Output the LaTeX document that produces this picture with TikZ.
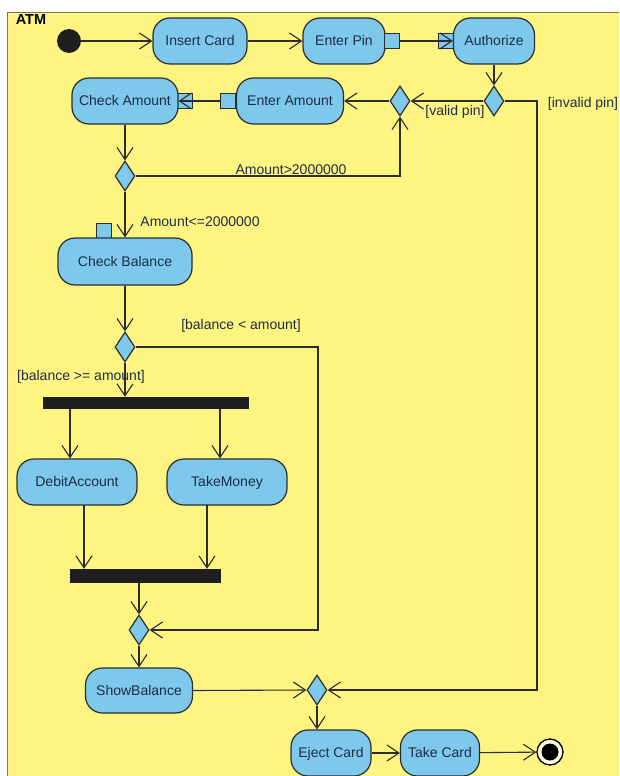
\documentclass[tikz,border=0pt]{standalone}
\usepackage{fontspec}
\setmainfont{Liberation Sans}
\usetikzlibrary{arrows.meta,shapes.geometric}
\definecolor{bgy}{RGB}{253,244,130}
\definecolor{nodeblue}{RGB}{125,200,235}
\definecolor{edgec}{RGB}{45,45,45}
\definecolor{txtc}{RGB}{30,45,70}
\definecolor{framec}{RGB}{120,120,90}
\begin{document}
\begin{tikzpicture}[x=1pt,y=-1pt,
  act/.style={draw=edgec, line width=1.2pt, fill=nodeblue, rounded corners=17pt,
    inner sep=0pt, text=txtc, font=\fontsize{14}{16}\selectfont, minimum height=46pt,
    text height=11.5pt, text depth=2.5pt},
  pinbox/.style={draw=edgec, line width=1.1pt, fill=nodeblue, inner sep=0pt,
    minimum width=15pt, minimum height=15pt},
  dec/.style={diamond, draw=edgec, line width=1.2pt, fill=nodeblue, inner sep=0pt,
    minimum width=20pt, minimum height=30pt},
  bar/.style={fill=black!88, inner sep=0pt},
  lbl/.style={text=txtc, font=\fontsize{14}{16}\selectfont, inner sep=0pt},
  arr/.style={draw=edgec, line width=1.1pt, -{Straight Barb[length=12pt,width=16pt,line width=1.1pt]}},
]
\useasboundingbox (0,0) rectangle (619,776);
\fill[white] (0,0) rectangle (619,776);
\fill[bgy] (7,13) rectangle (619,776);
\draw[framec, line width=1pt] (7,776) -- (7,13) -- (619,13);
\node[font=\bfseries\fontsize{14.5}{16}\selectfont, inner sep=0pt] (atm) at (31,20) {ATM};

% nodes
\node[circle, fill=black!88, minimum size=24pt, inner sep=0pt] (init) at (69,41) {};
\node[act, minimum width=94pt] (insert) at (200,41) {Insert Card};
\node[act, minimum width=82pt] (enterpin) at (344,41) {Enter Pin};
\node[pinbox] (pinout) at (392,41) {};
\node[pinbox] (pinin) at (446,41) {};
\node[act, minimum width=81pt] (authorize) at (494,41) {Authorize};

\node[dec] (d1) at (494,101) {};
\node[dec] (d2) at (400,101) {};
\node[act, minimum width=107pt] (enteramount) at (290,101) {Enter Amount};
\node[pinbox] (amountpin) at (228,101) {};
\node[pinbox] (checkpin) at (185,101) {};
\node[act, minimum width=106pt] (checkamount) at (125,101) {Check Amount};

\node[dec] (d3) at (125,176) {};
\node[pinbox] (balpin) at (104,231) {};
\node[act, minimum width=134pt, minimum height=47pt] (checkbal) at (125,261.5) {Check Balance};
\node[dec] (d4) at (125,347) {};

\node[bar, minimum width=206pt, minimum height=12pt] (fork) at (146,403) {};
\node[act, minimum width=120pt] (debit) at (77,482) {DebitAccount};
\node[act, minimum width=120pt] (take) at (227,482) {TakeMoney};
\node[bar, minimum width=151pt, minimum height=14pt] (join) at (145.5,576) {};
\node[dec] (d5) at (139,630) {};
\node[act, minimum width=107pt, minimum height=45pt] (showbal) at (139,690.5) {ShowBalance};
\node[dec] (dfin) at (317,690) {};
\node[act, minimum width=80pt] (eject) at (331,753) {Eject Card};
\node[act, minimum width=79pt] (takecard) at (440,753) {Take Card};
\node[circle, draw=black, line width=1.3pt, fill=white!70!bgy, minimum size=26pt, inner sep=0pt] (fin) at (550,752) {};
\node[circle, fill=black, minimum size=17pt, inner sep=0pt] (fininner) at (fin) {};

% free-end coordinates
\coordinate (rc) at (537,690);
\coordinate (lc) at (318,630);
\coordinate (f1) at (70,409);
\coordinate (f2) at (220,409);
\coordinate (j1) at (84,505);
\coordinate (j2) at (207,505);

% edges
\draw[arr] (init) -- (insert);
\draw[arr] (insert) -- (enterpin);
\draw[arr] (pinout.east) -- (authorize.west);
\draw[arr] (authorize) -- (d1);
\draw[arr] (d1.east) -| (rc) -- (dfin.east);
\draw[arr] (d1.west) -- (d2.east);
\draw[arr] (d2.west) -- (enteramount.east);
\draw[arr] (amountpin.west) -- (checkamount.east);
\draw[arr] (checkamount) -- (d3);
\draw[arr] (d3.east) -| (d2.south);
\draw[arr] (d3.south) -- (checkbal.north);
\draw[arr] (checkbal) -- (d4);
\draw[arr] (d4.south) -- (d4.south |- fork.north);
\draw[arr] (d4.east) -| (lc) -- (d5.east);
\draw[arr] (f1) -- (f1 |- debit.north);
\draw[arr] (f2) -- (f2 |- take.north);
\draw[arr] (j1) -- (j1 |- join.north);
\draw[arr] (j2) -- (j2 |- join.north);
\draw[arr] (d5.north |- join.south) -- (d5.north);
\draw[arr] (d5) -- (showbal);
\draw[arr] (showbal.east) -- (dfin.west);
\draw[arr] (dfin.south) -- (dfin.south |- eject.north);
\draw[arr] (eject) -- (takecard);
\draw[arr] (takecard) -- (fin);

% labels
\node[lbl] (lvalid) at (455,112) {[valid pin]};
\node[lbl] (linvalid) at (583,104) {[invalid pin]};
\node[lbl] (lgt) at (291,170) {Amount>2000000};
\node[lbl] (lle) at (200,222) {Amount<=2000000};
\node[lbl] (llt) at (241,326) {[balance < amount]};
\node[lbl] (lge) at (81,377) {[balance >= amount]};
\end{tikzpicture}
\end{document}
